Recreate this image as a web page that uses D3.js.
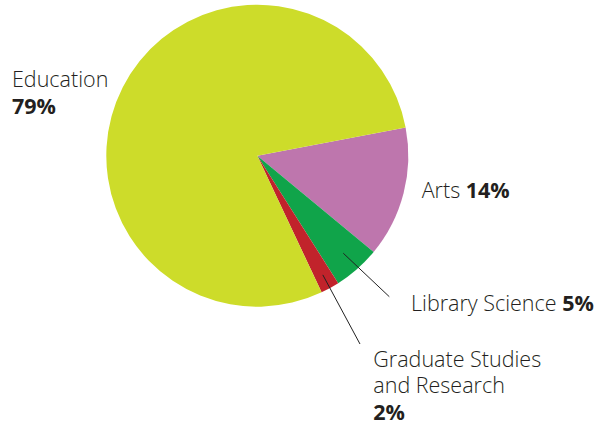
<!DOCTYPE html>
<html><head><meta charset="utf-8">
<script src="https://cdn.jsdelivr.net/npm/d3@7"></script>
<style>body{margin:0;background:#fff}svg{display:block}</style>
</head><body>
<svg id="c" width="598" height="427"></svg>
<script>
const categories = ["Arts", "Library Science", "Graduate Studies and Research", "Education"];
const values = [14, 5, 2, 79];
const colors = ["#be76ad", "#10a44a", "#c1232b", "#cddc2a"];

const svg = d3.select("#c");
const cx = 257.3, cy = 155.7, r = 151;
const g = svg.append("g").attr("transform", `translate(${cx},${cy})`);
const start = 79.2 * Math.PI / 180;
const pie = d3.pie().sort(null).value(d => d).startAngle(start).endAngle(start + 2 * Math.PI);
const arcs = pie(values);
const arc = d3.arc().innerRadius(0).outerRadius(r);
g.selectAll("path").data(arcs).join("path")
  .attr("d", arc).attr("fill", (d, i) => colors[i]);

function leader(i, r0, ex, ey) {
  const a = (arcs[i].startAngle + arcs[i].endAngle) / 2;
  const x0 = Math.sin(a) * r0, y0 = -Math.cos(a) * r0;
  g.append("line").attr("x1", x0).attr("y1", y0).attr("x2", ex - cx).attr("y2", ey - cy)
    .attr("stroke", "#222").attr("stroke-width", 1);
}
leader(1, 130, 389.3, 296.7);
leader(2, 136, 360, 344);

const font = "'Open Sans', sans-serif";
function label(x, y, lines) {
  const t = svg.append("text").attr("x", x).attr("y", y)
    .attr("font-family", font).attr("font-size", 21.5).attr("fill", "#231f20");
  lines.forEach((ln, li) => {
    const ts = t.append("tspan").attr("x", x).attr("dy", li === 0 ? 0 : 26.5);
    ln.forEach(p => ts.append("tspan").attr("font-weight", p.b ? 700 : 300).text(p.t));
  });
}
label(12, 87.3, [[{t: "Education"}], [{t: values[3] + "%", b: true}]]);
label(421.7, 197.7, [[{t: "Arts "}, {t: values[0] + "%", b: true}]]);
label(411, 310.7, [[{t: "Library Science "}, {t: values[1] + "%", b: true}]]);
label(373.3, 366.7, [[{t: "Graduate Studies"}], [{t: "and Research"}], [{t: values[2] + "%", b: true}]]);
</script>
</body></html>
